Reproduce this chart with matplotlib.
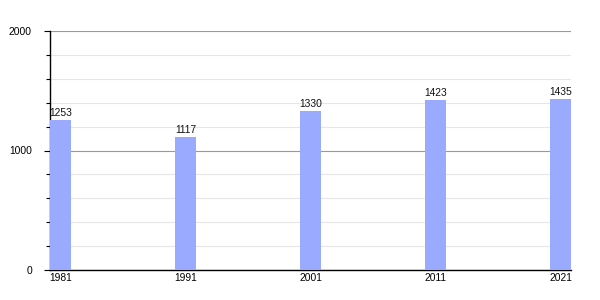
import matplotlib
matplotlib.use("Agg")
import matplotlib.pyplot as plt
import numpy as np

years = ['1981', '1991', '2001', '2011', '2021']
population = [1253, 1117, 1330, 1423, 1435]

plt.rcParams['font.family'] = ['Liberation Sans', 'DejaVu Sans']

fig = plt.figure(figsize=(6, 3), dpi=100)
ax = fig.add_axes([50/600, 30/300, 521/600, 239/300])

x = np.arange(len(years))
w = 0.168
bars = ax.bar(x, population, width=w, align='edge', color='#99aaff', zorder=3)

# value labels above each bar
for xi, v in zip(x, population):
    ax.text(xi + w/2, v + 15, str(v), ha='center', va='bottom', fontsize=7.4, color='#111111')

ax.set_xlim(0, len(years) - 1 + w)
ax.set_ylim(0, 2000)
ax.set_xticks(x + w/2)
ax.set_xticklabels(years, fontsize=7.4)
ax.set_yticks([0, 1000, 2000])
ax.set_yticklabels(['0', '1000', '2000'], fontsize=7.4)
ax.set_yticks(np.arange(200, 2000, 200), minor=True)

ax.tick_params(axis='x', length=0, pad=2)
ax.tick_params(axis='y', which='major', length=4, width=0.8, pad=9)
ax.tick_params(axis='y', which='minor', length=3, width=0.8)

ax.grid(axis='y', which='major', color='#999999', linewidth=0.8, zorder=1)
ax.grid(axis='y', which='minor', color='#e6e6e6', linewidth=0.8, zorder=1)

for s in ['top', 'right']:
    ax.spines[s].set_visible(False)
ax.spines['left'].set_linewidth(1)
ax.spines['bottom'].set_linewidth(1)

fig.savefig('out.png', dpi=100)
